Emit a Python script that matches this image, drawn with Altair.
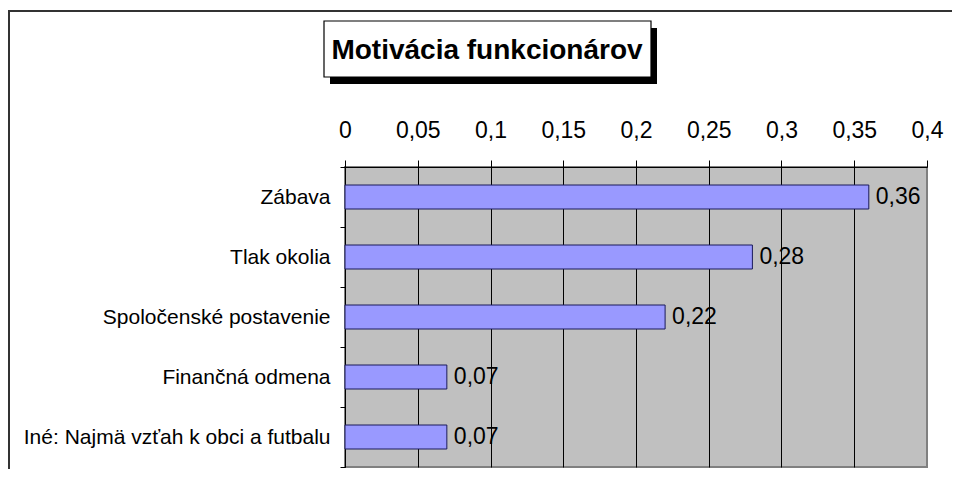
import altair as alt
import pandas as pd

categories = ["Zábava", "Tlak okolia", "Spoločenské postavenie", "Finančná odmena", "Iné: Najmä vzťah k obci a futbalu"]
values = [0.36, 0.28, 0.22, 0.07, 0.07]
tick_values = [0, 0.05, 0.1, 0.15, 0.2, 0.25, 0.3, 0.35, 0.4]
title_text = "Motivácia funkcionárov"

df = pd.DataFrame({"cat": categories, "val": values})
FONT = "Liberation Sans"

xscale = alt.Scale(domain=[0, 0.4], nice=False, zero=True)
yscale = alt.Scale(domain=categories, paddingInner=0, paddingOuter=0)

base = alt.Chart(df)

bars = base.mark_bar(
    height={"band": 0.4}, color="#9999FF", stroke="#1a1a5a", strokeWidth=1
).encode(
    x=alt.X("val:Q", scale=xscale, title=None,
            axis=alt.Axis(orient="top", values=tick_values,
                          labelExpr="replace(format(datum.value, '.2~f'), '.', ',')",
                          labelFont=FONT, labelFontSize=23, labelColor="black",
                          labelBaseline="alphabetic", labelPadding=23,
                          tickSize=7, tickColor="black", tickWidth=1,
                          domainColor="black", domainWidth=1,
                          grid=True, gridWidth=1,
                          gridColor={"condition": {"test": "datum.value >= 0.399", "value": "#808080"}, "value": "black"},
                          labelOverlap=False, labelFlush=False)),
    y=alt.Y("cat:N", scale=yscale, sort=categories, title=None,
            axis=alt.Axis(orient="left", tickBand="extent", tickSize=5, tickColor="black",
                          domainColor="black", domainWidth=1,
                          labelFont=FONT, labelFontSize=21, labelColor="black",
                          labelPadding=10, labelLimit=400, grid=False)),
)

labels = base.transform_calculate(
    lab="replace(format(datum.val, '.2f'), '.', ',')"
).mark_text(
    align="left", baseline="middle", dx=7, font=FONT, fontSize=23, color="black"
).encode(
    x=alt.X("val:Q", scale=xscale),
    y=alt.Y("cat:N", scale=yscale, sort=categories),
    text="lab:N",
)

one = alt.Data(values=[{"k": 1}])

frame_top = alt.Chart(one).mark_rule(color="#333333", strokeWidth=2).encode(
    x=alt.value(-337), x2=alt.value(615), y=alt.value(-156)
)
frame_left = alt.Chart(one).mark_rule(color="#333333", strokeWidth=2).encode(
    x=alt.value(-336), y=alt.value(-157), y2=alt.value(310)
)
shadow = alt.Chart(one).mark_rect(color="black").encode(
    x=alt.value(-15), x2=alt.value(312), y=alt.value(-139), y2=alt.value(-83)
)
tbox = alt.Chart(one).mark_rect(fill="white", stroke="black", strokeWidth=1.2).encode(
    x=alt.value(-21), x2=alt.value(306), y=alt.value(-146), y2=alt.value(-90)
)
ttext = alt.Chart(one).mark_text(
    text=title_text, font=FONT, fontSize=28, fontWeight="bold", color="black",
    align="center", baseline="alphabetic"
).encode(x=alt.value(142), y=alt.value(-108))

chart = alt.layer(bars, labels, frame_top, frame_left, shadow, tbox, ttext).properties(
    width=582, height=300,
    autosize=alt.AutoSizeParams(type="none"),
    padding={"left": 337, "top": 159, "right": 25, "bottom": 2},
    background="white",
).configure_view(
    fill="#C0C0C0", stroke="#808080", strokeWidth=2
)

chart.save("out.html", embed_options={"renderer": "svg", "actions": False})
